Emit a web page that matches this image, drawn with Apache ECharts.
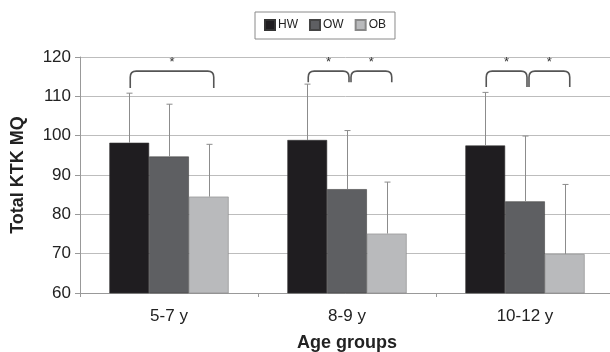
<!DOCTYPE html>
<html>
<head>
<meta charset="utf-8">
<script src="https://cdn.jsdelivr.net/npm/echarts@6/dist/echarts.min.js"></script>
<style>
html,body{margin:0;padding:0;background:#fff;}
#c{width:610px;height:352px;}
</style>
</head>
<body>
<div id="c"></div>
<script>
var categories = ['5-7 y', '8-9 y', '10-12 y'];
var seriesNames = ['HW', 'OW', 'OB'];
var hwMean = [98.2, 98.9, 97.5];
var owMean = [94.7, 86.4, 83.3];
var obMean = [84.5, 75.1, 69.9];
var hwUpper = [110.8, 113.1, 111.0];
var owUpper = [108.0, 101.3, 99.9];
var obUpper = [97.8, 88.2, 87.6];
// significance brackets: [category index, from bar, to bar, bracket bottom value]
var brackets = [
  [0, 0, 2, 112.1],
  [1, 0, 1, 113.6],
  [1, 1, 2, 113.6],
  [2, 0, 1, 112.4],
  [2, 1, 2, 112.4]
];
var bracketTop = 116.4;
var starLevel = 119.2;
var yTicks = [60, 70, 80, 90, 100, 110, 120];

var means = [hwMean, owMean, obMean];
var uppers = [hwUpper, owUpper, obUpper];
var colors = ['#1f1d20', '#5e5f62', '#b9babc'];
var GAP = 0.33;

var errData = [];
for (var s = 0; s < 3; s++) {
  for (var i = 0; i < categories.length; i++) {
    errData.push([i, means[s][i], uppers[s][i], s]);
  }
}

function barWidthOf(api) {
  var catW = api.size([1, 0])[0];
  return catW * (1 - GAP) / 3;
}

var chart = echarts.init(document.getElementById('c'));
var option = {
  backgroundColor: '#ffffff',
  animation: false,
  textStyle: {fontFamily: 'Liberation Sans, Arial, sans-serif'},
  legend: {
    data: seriesNames,
    left: 255,
    top: 12,
    orient: 'horizontal',
    itemWidth: 10,
    itemHeight: 10,
    itemGap: 11,
    icon: 'rect',
    padding: [7, 9, 8, 9],
    borderColor: '#8a8a8a',
    borderWidth: 1,
    textStyle: {fontSize: 12, color: '#222', padding: [0, 0, 0, -2]}
  },
  grid: {left: 80, top: 57, width: 534, height: 236, containLabel: false, outerBoundsMode: 'none'},
  xAxis: {
    type: 'category',
    data: categories,
    name: 'Age groups',
    nameLocation: 'middle',
    nameGap: 41,
    nameTextStyle: {fontSize: 18, fontWeight: 'bold', color: '#222'},
    axisLine: {show: true, lineStyle: {color: '#999', width: 1}},
    axisTick: {show: true, length: 4, lineStyle: {color: '#999'}},
    axisLabel: {fontSize: 17, color: '#222', margin: 15},
    splitLine: {show: false}
  },
  yAxis: {
    type: 'value',
    min: yTicks[0],
    max: yTicks[yTicks.length - 1],
    interval: 10,
    name: 'Total KTK MQ',
    nameLocation: 'middle',
    nameGap: 53,
    nameTextStyle: {fontSize: 18, fontWeight: 'bold', color: '#222'},
    axisLine: {show: true, lineStyle: {color: '#999', width: 1}},
    axisTick: {show: true, length: 5, inside: false, lineStyle: {color: '#999'}},
    axisLabel: {fontSize: 17, color: '#222', margin: 9},
    splitLine: {show: true, lineStyle: {color: '#bdbdbd', width: 1}}
  },
  series: [
    {
      name: 'HW', type: 'bar', data: hwMean, barGap: '0%', barCategoryGap: (GAP * 100) + '%',
      itemStyle: {color: colors[0], borderColor: '#333', borderWidth: 0.6}
    },
    {
      name: 'OW', type: 'bar', data: owMean,
      itemStyle: {color: colors[1], borderColor: '#444', borderWidth: 0.6}
    },
    {
      name: 'OB', type: 'bar', data: obMean,
      itemStyle: {color: colors[2], borderColor: '#888', borderWidth: 0.6}
    },
    {
      type: 'custom',
      name: 'err',
      data: errData,
      z: 10,
      renderItem: function (params, api) {
        var cat = api.value(0), s = api.value(3);
        var bw = barWidthOf(api);
        var base = api.coord([cat, api.value(1)]);
        var top = api.coord([cat, api.value(2)]);
        var x = Math.round(base[0] + (s - 1) * bw) + 0.5;
        var cap = 3;
        return {
          type: 'group',
          children: [
            {type: 'line', shape: {x1: x, y1: base[1], x2: x, y2: top[1]}, style: {stroke: '#8c8c8c', lineWidth: 1}},
            {type: 'line', shape: {x1: x - cap, y1: top[1], x2: x + cap, y2: top[1]}, style: {stroke: '#8c8c8c', lineWidth: 1}}
          ]
        };
      }
    },
    {
      type: 'custom',
      name: 'sig',
      data: brackets,
      z: 11,
      renderItem: function (params, api) {
        var cat = api.value(0), a = api.value(1), b = api.value(2);
        var bw = barWidthOf(api);
        var c = api.coord([cat, api.value(3)]);
        var t = api.coord([cat, bracketTop]);
        var st = api.coord([cat, starLevel]);
        var x1 = c[0] + (a - 1) * bw + (a > 0 ? 4 : 1);
        var x2 = c[0] + (b - 1) * bw + (b === 2 ? 5 : 2);
        var yb = c[1], yt = t[1];
        var r = 6;
        var path = 'M' + x1 + ' ' + yb + ' L' + x1 + ' ' + (yt + r) +
          ' Q' + x1 + ' ' + yt + ' ' + (x1 + r) + ' ' + yt +
          ' L' + (x2 - r) + ' ' + yt +
          ' Q' + x2 + ' ' + yt + ' ' + x2 + ' ' + (yt + r) +
          ' L' + x2 + ' ' + yb;
        return {
          type: 'group',
          children: [
            {type: 'path', shape: {pathData: path}, style: {stroke: '#555', lineWidth: 1.6, fill: null}},
            {type: 'text', style: {text: '*', x: (x1 + x2) / 2, y: st[1] + 2, fontSize: 13, fill: '#333', align: 'center', verticalAlign: 'middle', fontFamily: 'Liberation Sans, Arial, sans-serif'}}
          ]
        };
      }
    }
  ]
};
chart.setOption(option);
</script>
</body>
</html>
